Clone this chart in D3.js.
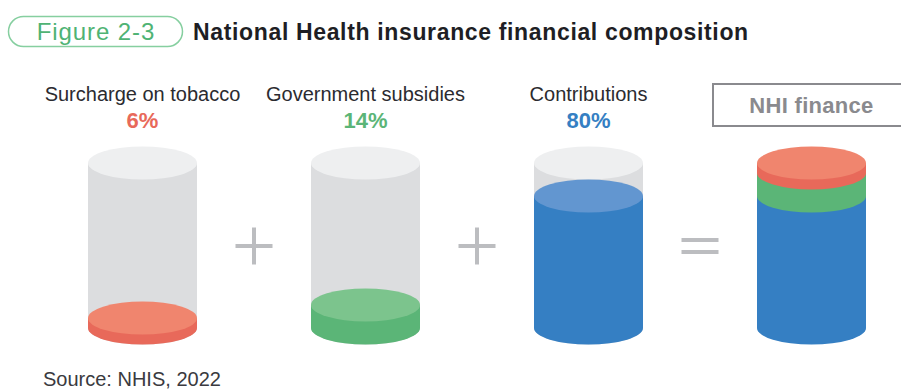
<!DOCTYPE html>
<html>
<head>
<meta charset="utf-8">
<script src="https://cdn.jsdelivr.net/npm/d3@7"></script>
<style>
  html, body { margin: 0; padding: 0; background: #fff; }
  svg { display: block; font-family: "Liberation Sans", Arial, Helvetica, sans-serif; }
</style>
</head>
<body>
<svg id="chart" width="901" height="391"></svg>
<script>
// ---- data ----
const figureLabel = "Figure 2-3";
const title = "National Health insurance financial composition";
const categories = ["Surcharge on tobacco", "Government subsidies", "Contributions"];
const values = [6, 14, 80];
const sideColors = ["#e8695a", "#5bb577", "#357fc3"];
const topColors = ["#f0856e", "#7cc48d", "#6296d0"];
const totalLabel = "NHI finance";
const operators = ["+", "+", "="];
const source = "Source: NHIS, 2022";

// ---- layout ----
const svg = d3.select("#chart");
const columns = categories.concat([totalLabel]);
const x = d3.scalePoint().domain(columns).range([142.5, 811.5]);
const y = d3.scaleLinear().domain([0, 100]).range([328, 163]);
const rx = 54.5, ry = 16.5;

// header
svg.append("rect").attr("x", 8.5).attr("y", 16.5).attr("width", 174).attr("height", 30)
  .attr("rx", 15).attr("fill", "#fff").attr("stroke", "#86cfa0").attr("stroke-width", 1.5);
svg.append("text").attr("x", 96).attr("y", 39.5).attr("text-anchor", "middle")
  .attr("font-size", 24).attr("letter-spacing", 0.9).attr("fill", "#4fb374").text(figureLabel);
svg.append("text").attr("x", 193).attr("y", 39.5)
  .attr("font-size", 23).attr("letter-spacing", 0.65).attr("font-weight", "bold").attr("fill", "#1e1e24").text(title);

function sidePath(cx, yTop, yBot) {
  return `M${cx - rx},${yTop} L${cx - rx},${yBot} A${rx},${ry} 0 0 0 ${cx + rx},${yBot} L${cx + rx},${yTop} Z`;
}

// individual cylinders
categories.forEach((c, i) => {
  const cx = x(c);
  const g = svg.append("g");
  // glass body
  g.append("path").attr("d", sidePath(cx, y(100), y(0))).attr("fill", "#dcdddf");
  g.append("ellipse").attr("cx", cx).attr("cy", y(100)).attr("rx", rx).attr("ry", ry).attr("fill", "#eeeff0");
  // fill
  g.append("path").attr("d", sidePath(cx, y(values[i]), y(0))).attr("fill", sideColors[i]);
  g.append("ellipse").attr("cx", cx).attr("cy", y(values[i])).attr("rx", rx).attr("ry", ry).attr("fill", topColors[i]);
  // labels
  svg.append("text").attr("x", cx).attr("y", 101).attr("text-anchor", "middle")
    .attr("font-size", 20).attr("fill", "#2b2b30").text(c);
  svg.append("text").attr("x", cx).attr("y", 128).attr("text-anchor", "middle")
    .attr("font-size", 22).attr("font-weight", "bold").attr("fill", sideColors[i]).text(values[i] + "%");
});

// stacked total cylinder
const tx = x(totalLabel);
const order = [2, 1, 0]; // contributions at bottom, then subsidies, then tobacco
let acc = 0;
const stack = order.map(i => { const s = { i, lo: acc, hi: acc + values[i] }; acc += values[i]; return s; });
const tg = svg.append("g");
stack.forEach(s => {
  tg.append("path").attr("d", sidePath(tx, y(s.hi), y(s.lo))).attr("fill", sideColors[s.i]);
});
const topSeg = stack[stack.length - 1];
tg.append("ellipse").attr("cx", tx).attr("cy", y(topSeg.hi)).attr("rx", rx).attr("ry", ry).attr("fill", topColors[topSeg.i]);

// NHI finance box
svg.append("rect").attr("x", 713).attr("y", 84).attr("width", 196).attr("height", 42)
  .attr("fill", "#fff").attr("stroke", "#8a8a8e").attr("stroke-width", 2);
svg.append("text").attr("x", tx).attr("y", 113).attr("text-anchor", "middle")
  .attr("font-size", 22).attr("letter-spacing", 0.3).attr("font-weight", "bold").attr("fill", "#8a8a8e").text(totalLabel);

// operators
operators.forEach((op, k) => {
  const cx = (x(columns[k]) + x(columns[k + 1])) / 2, cy = 246;
  const og = svg.append("g").attr("stroke", "#bcbdc0").attr("stroke-width", 4);
  if (op === "+") {
    og.append("line").attr("x1", cx - 18.5).attr("x2", cx + 18.5).attr("y1", cy).attr("y2", cy);
    og.append("line").attr("x1", cx).attr("x2", cx).attr("y1", cy - 18.5).attr("y2", cy + 18.5);
  } else {
    [-6, 6].forEach(d => og.append("line").attr("x1", cx - 18.5).attr("x2", cx + 18.5).attr("y1", cy + d).attr("y2", cy + d));
  }
});

// source
svg.append("text").attr("x", 43).attr("y", 386).attr("font-size", 20).attr("fill", "#3a3a40").text(source);
</script>
</body>
</html>
